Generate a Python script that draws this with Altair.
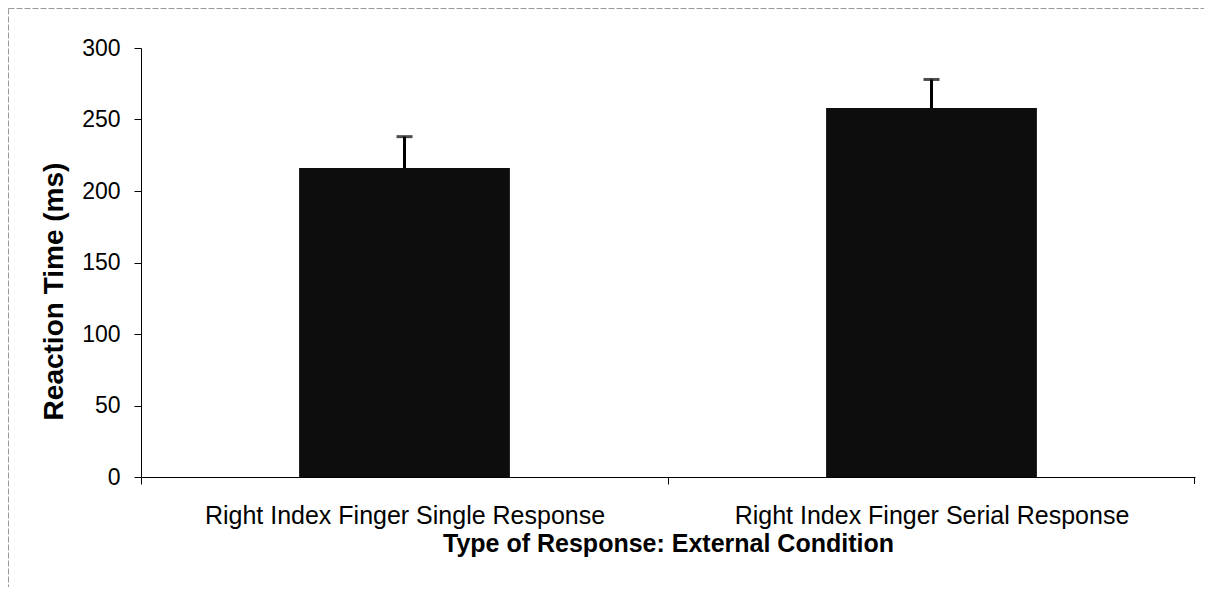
import altair as alt
import pandas as pd

conditions = ["Right Index Finger Single Response", "Right Index Finger Serial Response"]
reaction_ms = [216, 258]
error_ms = [22, 20]
y_ticks = [0, 50, 100, 150, 200, 250, 300]

df = pd.DataFrame({
    "condition": conditions,
    "reaction": reaction_ms,
    "upper": [m + e for m, e in zip(reaction_ms, error_ms)],
})

FONT = "Liberation Sans"
W, H = 1054, 429
STEP = W / 2

x_enc = alt.X(
    "condition:N",
    sort=conditions,
    scale=alt.Scale(paddingInner=0.6, paddingOuter=0.3),
    axis=alt.Axis(
        title="Type of Response: External Condition",
        labelAngle=0,
        labelLimit=0,
        tickOffset=-STEP / 2,
        labelOffset=STEP / 2,
        tickSize=7,
        tickColor="black",
        domainColor="black",
        labelPadding=19,
        labelFontSize=25,
        labelFont=FONT,
        labelColor="black",
        titleFont=FONT,
        titleFontSize=25,
        titleFontWeight="bold",
        titleColor="black",
        titlePadding=3,
        grid=False,
    ),
)

y_enc = alt.Y(
    "reaction:Q",
    scale=alt.Scale(domain=[0, 300]),
    axis=alt.Axis(
        values=y_ticks,
        title="Reaction Time (ms)",
        tickSize=7,
        tickColor="black",
        domainColor="black",
        labelPadding=14,
        labelFontSize=23,
        labelFont=FONT,
        labelColor="black",
        titleFont=FONT,
        titleFontSize=28,
        titleFontWeight="bold",
        titleColor="black",
        titlePadding=13,
        titleY=243,
        grid=False,
    ),
)

base = alt.Chart(df)

bars = base.mark_bar(color="#0d0d0d").encode(x=x_enc, y=y_enc)

err = base.mark_rule(color="black", strokeWidth=3).encode(
    x=alt.X("condition:N", sort=conditions),
    y="reaction:Q",
    y2="upper:Q",
)

caps = base.mark_tick(color="black", size=16, thickness=3, orient="horizontal").encode(
    x=alt.X("condition:N", sort=conditions),
    y="upper:Q",
)

one = pd.DataFrame({"k": [0]})
end_tick = alt.Chart(one).mark_rule(color="black", strokeWidth=1).encode(
    x=alt.value(W - 0.5), y=alt.value(H), y2=alt.value(H + 7)
)
frame_left = alt.Chart(one).mark_rule(color="#999999", strokeWidth=1, strokeDash=[6, 2]).encode(
    x=alt.value(-132.5), y=alt.value(-39.5), y2=alt.value(H + 110)
)
frame_top = alt.Chart(one).mark_rule(color="#999999", strokeWidth=1, strokeDash=[6, 2]).encode(
    x=alt.value(-132.5), x2=alt.value(W + 9), y=alt.value(-39.5)
)

chart = alt.layer(bars, err, caps, end_tick, frame_left, frame_top).properties(
    width=W,
    height=H,
    background="white",
    padding={"left": 133, "top": 40, "right": 9, "bottom": 110},
    autosize=alt.AutoSizeParams(type="none"),
).configure_view(strokeWidth=0, stroke="transparent")

chart.save("out.html", embed_options={"renderer": "svg", "actions": False})
